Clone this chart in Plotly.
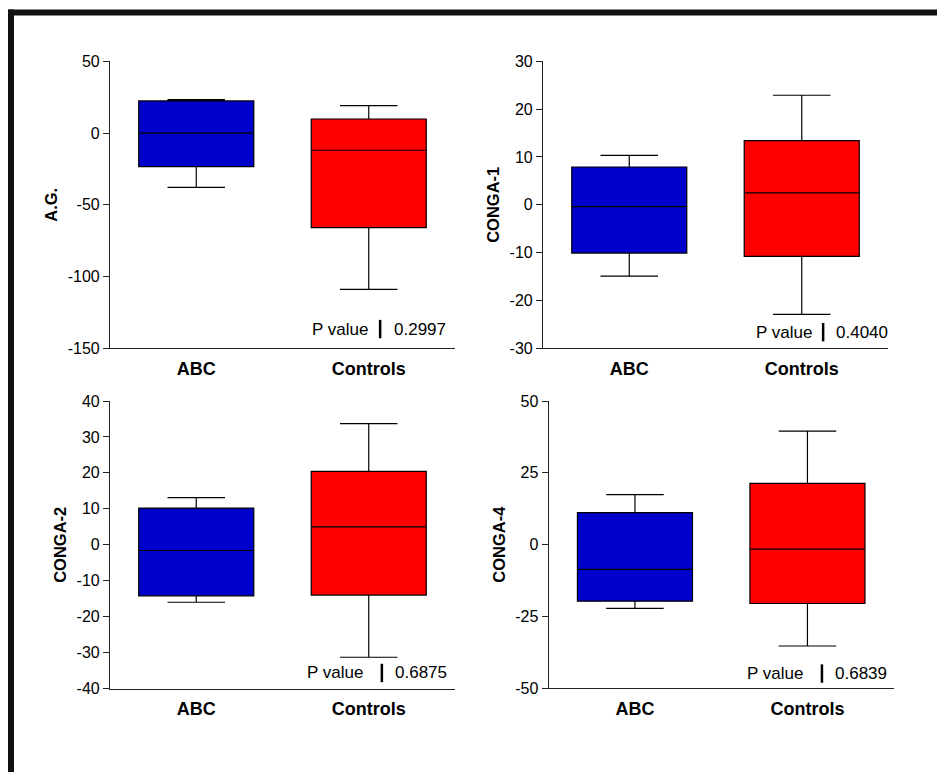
import plotly.graph_objects as go

# ---- data ----
groups = ["ABC", "Controls"]
panel_titles = ["A.G.", "CONGA-1", "CONGA-2", "CONGA-4"]
p_values = ["0.2997", "0.4040", "0.6875", "0.6839"]

# [lowerfence, q1, median, q3, upperfence] per group
ag_abc = [-37.8, -23.4, 0.0, 22.4, 23.3]
ag_ctrl = [-108.9, -65.9, -12.0, 9.8, 19.1]
c1_abc = [-14.9, -10.1, -0.4, 7.9, 10.35]
c1_ctrl = [-22.9, -10.8, 2.5, 13.4, 22.9]
c2_abc = [-16.0, -14.2, -1.6, 10.2, 13.1]
c2_ctrl = [-31.3, -14.0, 4.95, 20.4, 33.7]
c4_abc = [-22.2, -19.7, -8.6, 11.1, 17.4]
c4_ctrl = [-35.3, -20.5, -1.6, 21.3, 39.5]

y_ranges = [[-150, 50], [-30, 30], [-40, 40], [-50, 50]]
y_tickvals = [[-150, -100, -50, 0, 50],
              [-30, -20, -10, 0, 10, 20, 30],
              [-40, -30, -20, -10, 0, 10, 20, 30, 40],
              [-50, -25, 0, 25, 50]]
y_ticktext = [["-150", "-100", "-50", "0", "50"],
              ["-30", "-20", "-10", "0", "10", "20", "30"],
              ["-40", "-30", "-20", "-10", "0", "10", "20", "30", "40"],
              ["-50", "-25", "0", "25", "50"]]

panels = [(ag_abc, ag_ctrl), (c1_abc, c1_ctrl), (c2_abc, c2_ctrl), (c4_abc, c4_ctrl)]
colors = ["#0000CC", "#FF0000"]

# ---- layout geometry (screen pixels -> paper; page body margin removed) ----
W, H = 937, 772
px_x = [(110, 455), (543, 888), (110, 455), (548.7, 893.7)]
px_y = [(61.3, 348.3), (61.3, 348.3), (401, 688.5), (401, 688.2)]
# p-value annotation positions (axis-domain fractions): P right, bar, value left, y
p_pos = [(0.754, 0.783, 0.817, 0.067), (0.785, 0.812, 0.843, 0.056),
         (0.739, 0.788, 0.821, 0.054), (0.744, 0.792, 0.824, 0.051)]


def fx(p):
    return p / W


def fy(p):
    return 1 - p / H


FONT = "Arial, Liberation Sans, sans-serif"

fig = go.Figure()
layout = dict(template="none", width=W, height=H,
              margin=dict(l=0, r=0, t=0, b=0, pad=0, autoexpand=False),
              paper_bgcolor="white", plot_bgcolor="white", showlegend=False,
              font=dict(family=FONT, color="black"))
annotations = []
shapes = []

for i, (data, title, pv) in enumerate(zip(panels, panel_titles, p_values)):
    n = "" if i == 0 else str(i + 1)
    xa, ya = "x" + n, "y" + n
    for g, vals, col in zip(groups, data, colors):
        lo, q1, med, q3, hi = vals
        fig.add_trace(go.Box(
            x=[g], q1=[q1], median=[med], q3=[q3], lowerfence=[lo], upperfence=[hi],
            fillcolor=col, line=dict(color="black", width=1.2),
            width=0.667, whiskerwidth=0.5, boxpoints=False,
            xaxis=xa, yaxis=ya, hoverinfo="y"))
    x0, x1 = px_x[i]
    y0, y1 = px_y[i]
    layout["xaxis" + n] = dict(
        domain=[fx(x0), fx(x1)], anchor=ya, type="category", automargin=False,
        categoryorder="array", categoryarray=groups, range=[-0.5, 1.5],
        showline=True, linecolor="#222", linewidth=1.2, ticks="",
        showgrid=False, zeroline=False, ticklabelstandoff=4,
        tickfont=dict(family=FONT, size=18, weight="bold", color="black"))
    layout["yaxis" + n] = dict(
        domain=[fy(y1), fy(y0)], anchor=xa, automargin=False,
        range=y_ranges[i], tickmode="array",
        tickvals=y_tickvals[i], ticktext=y_ticktext[i],
        showline=True, linecolor="#222", linewidth=1.2,
        ticks="outside", ticklen=6, tickcolor="#222", tickwidth=1.2,
        showgrid=False, zeroline=False,
        tickfont=dict(family=FONT, size=16, color="black"),
        title=dict(text=title, standoff=5,
                   font=dict(family=FONT, size=16.5, weight="bold", color="black")))
    pr, bx, vl, py = p_pos[i]
    annotations.append(dict(text="P value", x=pr, y=py, xref=xa + " domain", yref=ya + " domain",
                            xanchor="right", yanchor="middle", showarrow=False,
                            font=dict(family=FONT, size=17, color="black")))
    annotations.append(dict(text=pv, x=vl, y=py, xref=xa + " domain", yref=ya + " domain",
                            xanchor="left", yanchor="middle", showarrow=False,
                            font=dict(family=FONT, size=17, color="black")))
    shapes.append(dict(type="line", xref=xa + " domain", yref=ya + " domain",
                       x0=bx, x1=bx, y0=py - 0.032, y1=py + 0.032,
                       line=dict(color="black", width=2.5)))

# outer frame (top bar and left bar)
shapes.append(dict(type="line", xref="paper", yref="paper", x0=fx(8), x1=1.0,
                   y0=fy(12.5), y1=fy(12.5), line=dict(color="#111", width=6)))
shapes.append(dict(type="line", xref="paper", yref="paper", x0=fx(11), x1=fx(11),
                   y0=0, y1=fy(9.5), line=dict(color="#111", width=6)))

layout["annotations"] = annotations
layout["shapes"] = shapes
fig.update_layout(**layout)
fig.write_html("out.html", config={"displayModeBar": False},
               post_script="document.body.style.margin='0px';document.body.style.overflow='hidden';")
